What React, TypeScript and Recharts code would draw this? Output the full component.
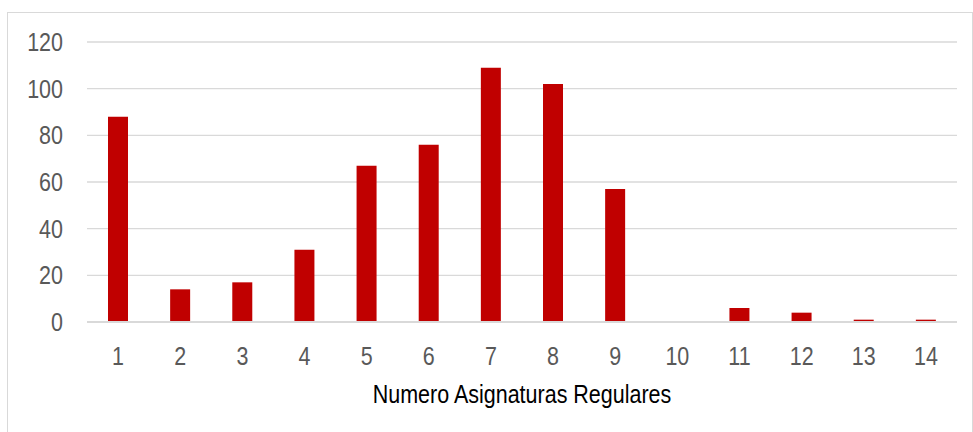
import React from "react";
import { BarChart, Bar, XAxis, YAxis, CartesianGrid, Label } from "recharts";

const categories = ["1", "2", "3", "4", "5", "6", "7", "8", "9", "10", "11", "12", "13", "14"];
const counts = [88, 14, 17, 31, 67, 76, 109, 102, 57, 0, 6, 4, 1, 1];
const yTicks = [0, 20, 40, 60, 80, 100, 120];
const axisTitle = "Numero Asignaturas Regulares";

const data = categories.map((c, i) => ({ name: c, value: counts[i] }));

// no narrow font installed, so squeeze Liberation Sans to look like Arial Narrow
const FONT = "'Liberation Sans', Arial, sans-serif";
const SQUEEZE = 0.86;
const TEXT = "#595959";
const GRID = "#d9d9d9";

function XTick({ x, y, payload }: any) {
  return (
    <text
      transform={`translate(${x},${y}) scale(${SQUEEZE},1)`}
      x={0}
      y={43}
      textAnchor="middle"
      fill={TEXT}
      fontSize={25}
      fontFamily={FONT}
    >
      {payload.value}
    </text>
  );
}

function YTick({ x, y, payload }: any) {
  return (
    <text
      transform={`translate(${x},${y}) scale(${SQUEEZE},1)`}
      x={0}
      y={0}
      dy="0.355em"
      textAnchor="end"
      fill={TEXT}
      fontSize={25}
      fontFamily={FONT}
    >
      {payload.value}
    </text>
  );
}

function AxisTitle({ viewBox }: any) {
  const cx = viewBox.x + viewBox.width / 2;
  return (
    <text
      transform={`translate(${cx},${viewBox.y + 81}) scale(${SQUEEZE},1)`}
      x={0}
      y={0}
      textAnchor="middle"
      fill="#000"
      fontSize={25}
      fontFamily={FONT}
    >
      {axisTitle}
    </text>
  );
}

export default function App() {
  return (
    <div style={{ position: "absolute", left: 0, top: 0, width: 973, height: 432, background: "#fff" }}>
      <div
        style={{
          position: "absolute",
          left: 7,
          top: 12,
          width: 966,
          height: 430,
          border: `1px solid ${GRID}`,
          boxSizing: "border-box",
        }}
      />
      <div style={{ position: "absolute", left: 0, top: 0 }}>
        <BarChart
          width={973}
          height={432}
          data={data}
          margin={{ top: 42, right: 16, left: 0, bottom: 10 }}
        >
          <CartesianGrid stroke={GRID} strokeWidth={1.3} vertical={false} />
          <XAxis
            dataKey="name"
            axisLine={{ stroke: GRID, strokeWidth: 2 }}
            tickLine={false}
            tickSize={0}
            tickMargin={0}
            height={100}
            tick={<XTick />}
            interval={0}
          >
            <Label content={<AxisTitle />} />
          </XAxis>
          <YAxis
            domain={[0, 120]}
            ticks={yTicks}
            width={87}
            axisLine={false}
            tickLine={false}
            tickSize={0}
            tickMargin={24}
            tick={<YTick />}
          />
          <Bar dataKey="value" fill="#c00000" barSize={20} isAnimationActive={false} />
        </BarChart>
      </div>
    </div>
  );
}
